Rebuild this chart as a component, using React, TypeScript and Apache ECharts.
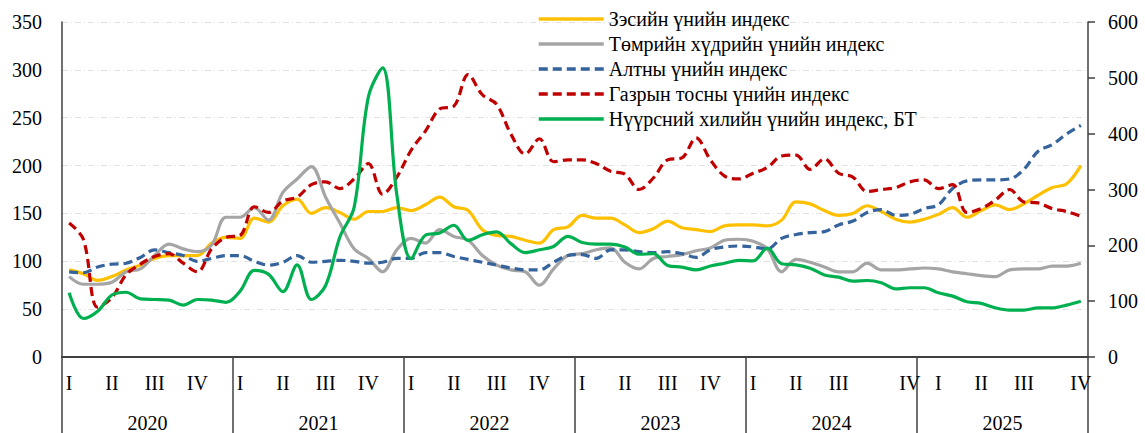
import React, { useEffect, useRef } from "react";
import * as echarts from "echarts";

const years = ["2020", "2021", "2022", "2023", "2024", "2025"];
const monthNums = ["01", "02", "03", "04", "05", "06", "07", "08", "09", "10", "11", "12"];
const months = years.flatMap((y) => monthNums.map((m) => `${y}-${m}`));

const quarterLabelsByYear = [
  ["I", "", "", "II", "", "", "III", "", "", "IV", "", ""],
  ["I", "", "", "II", "", "", "III", "", "", "IV", "", ""],
  ["I", "", "", "II", "", "", "III", "", "", "IV", "", ""],
  ["I", "", "", "II", "", "", "III", "", "", "IV", "", ""],
  ["I", "", "", "II", "", "", "III", "", "", "", "", "IV"],
  ["", "I", "", "", "II", "", "", "III", "", "", "", "IV"],
];
const quarterLabels = quarterLabelsByYear.flat();

const seriesNames = [
  "Зэсийн үнийн индекс",
  "Төмрийн хүдрийн үнийн индекс",
  "Алтны үнийн индекс",
  "Газрын тосны үнийн индекс",
  "Нүүрсний хилийн үнийн индекс, БТ",
];

const copper = [
  91, 87, 80, 84, 91, 96, 103, 106, 106, 106, 119, 125,
  124, 145, 141, 158, 165, 150, 156, 151, 144, 152, 152, 156,
  153, 159, 167, 157, 153, 133, 127, 126, 122, 119, 133, 136,
  148, 145, 145, 138, 130, 134, 142, 135, 133, 131, 137, 138,
  138, 137, 143, 162, 160, 153, 148, 150, 158, 152, 144, 141,
  144, 149, 156, 146, 153, 159, 154, 160, 169, 177, 181, 200,
];
const ironOre = [
  84, 76, 76, 78, 89, 92, 106, 118, 113, 110, 117, 146,
  146, 156, 143, 172, 186, 199, 167, 140, 113, 103, 89, 112,
  124, 119, 133, 126, 122, 106, 96, 91, 89, 75, 92, 106,
  108, 112, 114, 99, 92, 103, 105, 107, 111, 114, 122, 123,
  121, 113, 89, 102, 99, 94, 89, 89, 98, 91, 91, 92,
  93, 92, 89, 87, 85, 84, 91, 92, 92, 95, 95, 98,
];
const gold = [
  89, 88, 94, 97, 98, 104, 112, 109, 106, 100, 103, 106,
  106, 100, 96, 99, 106, 99, 100, 101, 100, 98, 99, 103,
  103, 109, 109, 105, 102, 99, 96, 93, 91, 91, 99, 106,
  107, 103, 112, 112, 110, 109, 110, 108, 104, 112, 115, 116,
  115, 113, 124, 128, 130, 131, 138, 142, 151, 154, 148, 149,
  155, 159, 176, 184, 185, 185, 186, 196, 215, 222, 233, 242,
];
const oil = [
  140, 123, 52, 62, 86, 97, 105, 108, 98, 89, 113, 125,
  127, 157, 151, 163, 167, 180, 183, 176, 186, 202, 170, 188,
  216, 236, 259, 262, 295, 274, 264, 233, 212, 228, 204, 206,
  206, 202, 194, 191, 175, 187, 206, 208, 229, 206, 189, 186,
  192, 198, 210, 211, 196, 207, 192, 188, 173, 175, 177, 183,
  185, 176, 180, 151, 155, 164, 175, 162, 161, 155, 152, 147,
];
const coal = [
  115, 69, 82, 111, 116, 104, 103, 102, 93, 103, 102, 98,
  118, 155, 148, 117, 165, 103, 128, 215, 268, 466, 518, 290,
  176, 218, 222, 236, 209, 219, 224, 203, 187, 192, 198, 216,
  205, 202, 202, 197, 184, 185, 164, 161, 156, 163, 168, 173,
  172, 195, 167, 165, 159, 147, 143, 136, 137, 133, 122, 124,
  124, 115, 109, 99, 96, 88, 84, 84, 88, 88, 93, 100,
];

const leftTicks = { min: 0, max: 350, interval: 50 };
const rightTicks = { min: 0, max: 600, interval: 100 };

const FONT = "'Times New Roman', 'Liberation Serif', serif";
const AXIS_COLOR = "#404040";

export default function App() {
  const ref = useRef<HTMLDivElement>(null);

  useEffect(() => {
    if (!ref.current) return;
    const chart = echarts.init(ref.current, null, { renderer: "svg" });
    const mkLine = (name: string, data: number[], color: string, dashed: boolean, yAxisIndex = 0) => ({
      name,
      type: "line",
      data,
      yAxisIndex,
      xAxisIndex: 0,
      smooth: 0.35,
      symbol: "none",
      lineStyle: { color, width: 3.2, type: dashed ? [9, 5] : "solid", cap: "butt" },
      itemStyle: { color },
      z: 3,
    });
    chart.setOption({
      animation: false,
      textStyle: { fontFamily: FONT },
      grid: { left: 62, right: 57, top: 22, bottom: 76 },
      legend: {
        orient: "vertical",
        left: 537,
        top: 9,
        padding: 0,
        itemWidth: 65,
        itemHeight: 14,
        itemGap: 5,
        itemStyle: { opacity: 0 },
        lineStyle: { width: 3.5 },
        textStyle: { fontSize: 20, color: "#000", fontFamily: FONT, lineHeight: 20 },
        data: seriesNames,
      },
      xAxis: [
        {
          type: "category",
          data: months,
          boundaryGap: true,
          axisLine: { show: true, lineStyle: { color: AXIS_COLOR, width: 2 } },
          axisTick: { show: false },
          axisLabel: {
            interval: 0,
            margin: 16,
            fontSize: 20,
            color: "#000",
            fontFamily: FONT,
            formatter: (_v: string, idx: number) => quarterLabels[idx],
          },
          splitLine: { show: false },
        },
        {
          type: "category",
          data: years,
          position: "bottom",
          boundaryGap: true,
          axisLine: { show: false },
          axisTick: {
            show: true,
            interval: 0,
            length: 78,
            alignWithLabel: false,
            lineStyle: { color: AXIS_COLOR, width: 1.5 },
          },
          axisLabel: { interval: 0, margin: 56, fontSize: 20, color: "#000", fontFamily: FONT },
          splitLine: { show: false },
        },
      ],
      yAxis: [
        {
          type: "value",
          ...leftTicks,
          position: "left",
          axisLine: { show: true, lineStyle: { color: AXIS_COLOR, width: 1.5 } },
          axisTick: { show: false },
          axisLabel: { margin: 20, fontSize: 20, color: "#000", fontFamily: FONT },
          splitLine: { show: true, lineStyle: { color: "#e2e2e2", width: 1, type: [6, 3, 1, 3] } },
        },
        {
          type: "value",
          ...rightTicks,
          position: "right",
          axisLine: { show: true, lineStyle: { color: AXIS_COLOR, width: 1.5 } },
          axisTick: { show: true, inside: false, length: 7, lineStyle: { color: AXIS_COLOR, width: 1.5 } },
          axisLabel: { margin: 20, fontSize: 20, color: "#000", fontFamily: FONT },
          splitLine: { show: false },
        },
      ],
      series: [
        mkLine(seriesNames[0], copper, "#FFC000", false),
        mkLine(seriesNames[1], ironOre, "#A5A5A5", false),
        mkLine(seriesNames[2], gold, "#35639C", true),
        mkLine(seriesNames[3], oil, "#C00000", true),
        mkLine(seriesNames[4], coal, "#00B050", false, 1),
      ],
    });
    return () => chart.dispose();
  }, []);

  return (
    <div
      ref={ref}
      style={{ position: "fixed", left: 0, top: 0, width: 1145, height: 433, background: "#fff" }}
    />
  );
}
